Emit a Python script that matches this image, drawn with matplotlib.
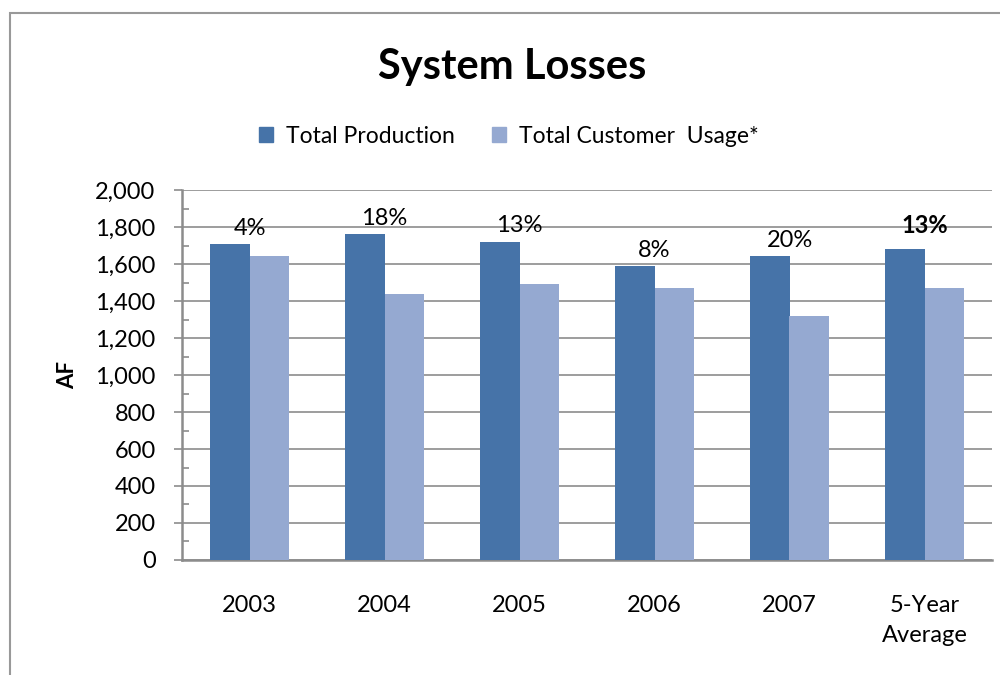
import numpy as np
import matplotlib.pyplot as plt
from matplotlib.patches import Patch, Rectangle
from matplotlib.ticker import MultipleLocator, FuncFormatter

# ---------------- DATA ----------------
categories = ["2003", "2004", "2005", "2006", "2007", "5-Year\nAverage"]
production = [1708, 1762, 1719, 1589, 1643, 1684]
usage = [1643, 1438, 1492, 1470, 1319, 1472]
loss_labels = ["4%", "18%", "13%", "8%", "20%", "13%"]

DARK = "#4673A8"
LIGHT = "#95A9D1"
GRID = "#8c8c8c"

plt.rcParams["font.family"] = ["Lato", "DejaVu Sans"]

fig = plt.figure(figsize=(10, 6.75), dpi=100)
ax = fig.add_axes([0.182, 0.1704, 0.81, 0.548])

# outer chart frame (runs off the right/bottom edge)
fig.patches.append(Rectangle((0.01, -0.05), 1.1, 1.05 - 0.019, transform=fig.transFigure,
                             fill=False, edgecolor="#999999", linewidth=1.5))

x = np.arange(len(categories))
w = 0.29
ax.bar(x - w / 2, production, w, color=DARK, zorder=3)
ax.bar(x + w / 2, usage, w, color=LIGHT, zorder=3)

for i, lab in enumerate(loss_labels):
    last = i == len(loss_labels) - 1
    ax.annotate(lab, (x[i], production[i]), xytext=(0, 8 if last else 4),
                textcoords="offset points", ha="center", va="bottom",
                fontsize=17, fontweight="bold" if last else "normal")

ax.set_xlim(-0.5, len(categories) - 0.5)
ax.set_ylim(0, 2000)
ax.yaxis.set_major_locator(MultipleLocator(200))
ax.yaxis.set_minor_locator(MultipleLocator(100))
ax.yaxis.set_major_formatter(FuncFormatter(lambda v, p: f"{int(v):,}"))
ax.grid(axis="y", color=GRID, linewidth=1.2, zorder=0)

ax.set_xticks(x)
ax.set_xticklabels(categories, fontsize=17, linespacing=1.55)
ax.tick_params(axis="x", length=0, pad=25)
ax.tick_params(axis="y", which="major", length=6, direction="out", color=GRID,
               width=1.2, labelsize=17, pad=13)
ax.tick_params(axis="y", which="minor", length=5, direction="in", color=GRID, width=1.2)

for s in ["top", "right"]:
    ax.spines[s].set_visible(False)
ax.spines["left"].set_color(GRID)
ax.spines["bottom"].set_color(GRID)
ax.spines["left"].set_linewidth(1.8)
ax.spines["bottom"].set_linewidth(1.8)

fig.text(0.068, 0.444, "AF", rotation=90, ha="center", va="center",
         fontsize=16, fontweight="bold")
fig.text(0.512, 0.9, "System Losses", ha="center", va="center",
         fontsize=30, fontweight="bold")

handles = [Patch(color=DARK, label="Total Production"),
           Patch(color=LIGHT, label="Total Customer  Usage*")]
fig.legend(handles=handles, loc="center", bbox_to_anchor=(0.509, 0.7985), ncol=2,
           frameon=False, fontsize=16.5, handlelength=0.6, handleheight=0.6,
           handletextpad=0.6, columnspacing=1.6)

plt.savefig("out.png", dpi=100)
